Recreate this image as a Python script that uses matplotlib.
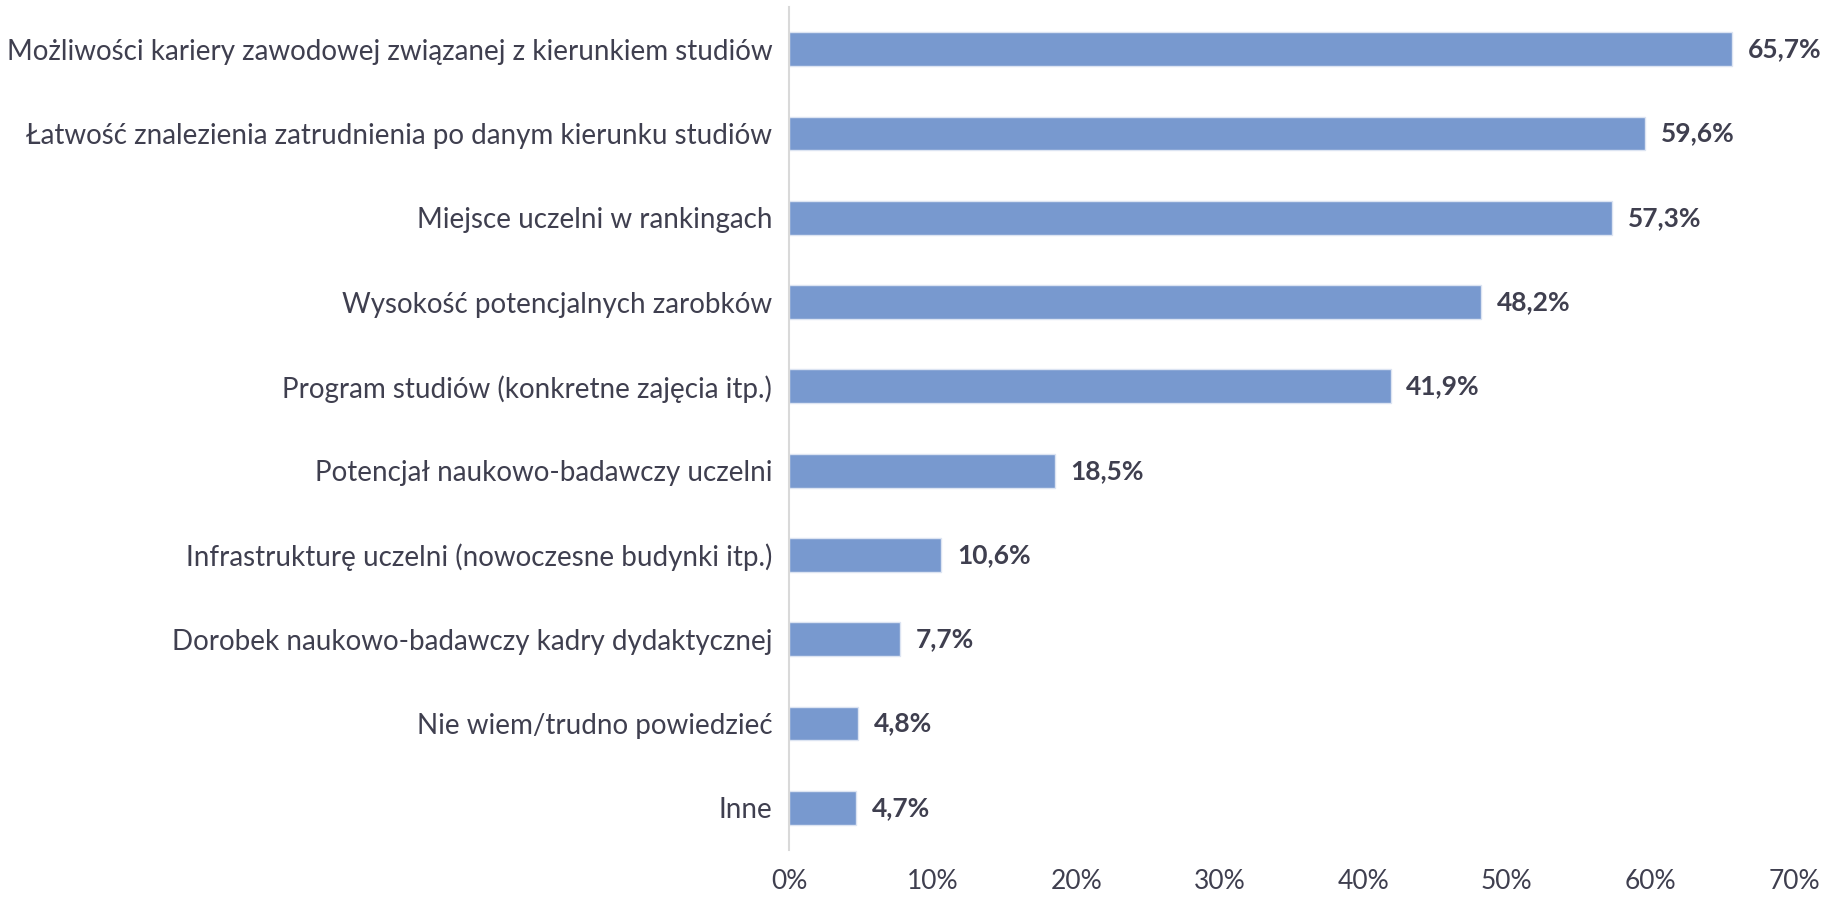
import matplotlib as mpl
mpl.use('Agg')
import matplotlib.pyplot as plt

categories = [
    "Możliwości kariery zawodowej związanej z kierunkiem studiów",
    "Łatwość znalezienia zatrudnienia po danym kierunku studiów",
    "Miejsce uczelni w rankingach",
    "Wysokość potencjalnych zarobków",
    "Program studiów (konkretne zajęcia itp.)",
    "Potencjał naukowo-badawczy uczelni",
    "Infrastrukturę uczelni (nowoczesne budynki itp.)",
    "Dorobek naukowo-badawczy kadry dydaktycznej",
    "Nie wiem/trudno powiedzieć",
    "Inne",
]
values = [65.7, 59.6, 57.3, 48.2, 41.9, 18.5, 10.6, 7.7, 4.8, 4.7]
xticks = [0, 10, 20, 30, 40, 50, 60, 70]

textColor = "#3F3F4F"
barColor = "#7899CF"

plt.rcParams['font.family'] = ['Lato', 'DejaVu Sans']

fig = plt.figure(figsize=(18.36, 8.99), dpi=100)
ax = fig.add_axes([789/1836, 1-850/899, (1794-789)/1836, 843/899])

pos = list(range(len(categories)))
ax.barh(pos, values, height=0.4, color=barColor, edgecolor="#DCE4F2", linewidth=1)

for p, v in zip(pos, values):
    ax.text(v + 1.1, p, "{:.1f}%".format(v).replace(".", ","), va="center", ha="left",
            fontsize=19, fontweight="bold", color=textColor)

ax.set_ylim(len(categories) - 0.5, -0.5)
ax.set_xlim(0, 70)
ax.set_yticks(pos)
ax.set_yticklabels(categories, fontsize=20, color=textColor)
ax.set_xticks(xticks)
ax.set_xticklabels(["{}%".format(t) for t in xticks], fontsize=19, color=textColor)
ax.tick_params(axis="y", length=0, pad=12)
ax.tick_params(axis="x", length=0, pad=14)

for s in ["top", "right", "bottom"]:
    ax.spines[s].set_visible(False)
ax.spines["left"].set_color("#D9D9D9")
ax.spines["left"].set_linewidth(1.5)

fig.savefig("out.png", dpi=100)
